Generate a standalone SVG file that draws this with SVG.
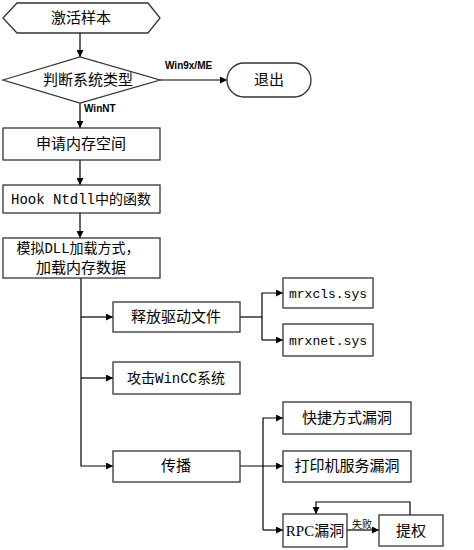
<svg xmlns="http://www.w3.org/2000/svg" width="474" height="550" viewBox="0 0 474 550">
<style>
.s{fill:#fff;stroke:#333;stroke-width:1.3}
.t{font-family:"Noto Sans CJK SC","Liberation Sans",sans-serif;font-size:15px;fill:#000;text-anchor:middle}
.m{font-family:"Liberation Mono","Noto Sans CJK SC",monospace;font-size:14px;fill:#000;text-anchor:middle}
.r{font-family:"Liberation Serif","Noto Sans CJK SC",serif;font-size:15px;fill:#000;text-anchor:middle}
.l{font-family:"Liberation Sans","Noto Sans CJK SC",sans-serif;font-size:10px;font-weight:bold;fill:#000}
.c{fill:none;stroke:#000;stroke-width:1.2}
</style>
<defs>
<marker id="a" viewBox="0 0 10 10" refX="10" refY="5" markerWidth="7" markerHeight="7" markerUnits="userSpaceOnUse" orient="auto"><path d="M0,0 L10,5 L0,10 z" fill="#000"/></marker>
</defs>
<g id="connectors">
<path class="c" d="M80,33 V57" marker-end="url(#a)"/>
<path class="c" d="M160,80 H227" marker-end="url(#a)"/>
<path class="c" d="M80,103 V128" marker-end="url(#a)"/>
<path class="c" d="M80,160 V185" marker-end="url(#a)"/>
<path class="c" d="M80,213 V238" marker-end="url(#a)"/>
<path class="c" d="M81,278 V466 H113" marker-end="url(#a)"/>
<path class="c" d="M81,317 H113" marker-end="url(#a)"/>
<path class="c" d="M81,378 H113" marker-end="url(#a)"/>
<path class="c" d="M240,317 H262"/>
<path class="c" d="M262,340 V293 H283" marker-end="url(#a)"/>
<path class="c" d="M262,340 H283" marker-end="url(#a)"/>
<path class="c" d="M240,466 H283" marker-end="url(#a)"/>
<path class="c" d="M263,530 V418 H283" marker-end="url(#a)"/>
<path class="c" d="M263,530 H283" marker-end="url(#a)"/>
<path class="c" d="M347,530 H379" marker-end="url(#a)"/>
<path class="c" d="M410,515 V502 H316 V514" marker-end="url(#a)"/>
<text class="l" x="165" y="69">Win9x/ME</text>
<text class="l" x="84" y="112">WinNT</text>
<text x="362" y="528" style="font-family:'Noto Sans CJK SC',sans-serif;font-size:10px;text-anchor:middle">失败</text>
</g>
<g id="n1"><polygon class="s" points="3,18 17,3 148,3 160,18 148,33 17,33"/><text class="t" x="81" y="23">激活样本</text></g>
<g id="n2"><polygon class="s" points="3,80 80,57 160,80 80,103"/><text class="t" x="88" y="85">判断系统类型</text></g>
<g id="n3"><rect class="s" x="227" y="63" width="84" height="34" rx="17"/><text class="t" x="269" y="85">退出</text></g>
<g id="n4"><rect class="s" x="3" y="128" width="157" height="32"/><text class="t" x="81" y="149">申请内存空间</text></g>
<g id="n5"><rect class="s" x="3" y="185" width="157" height="28"/><text class="m" x="81" y="204">Hook Ntdll中的函数</text></g>
<g id="n6"><rect class="s" x="3" y="238" width="157" height="40"/><text class="m" x="78" y="253">模拟DLL加载方式，</text><text class="t" x="81" y="273">加载内存数据</text></g>
<g id="n7"><rect class="s" x="113" y="302" width="127" height="30"/><text class="t" x="176" y="322">释放驱动文件</text></g>
<g id="n8"><rect class="s" x="283" y="278" width="90" height="30"/><text class="m" x="328" y="298" style="font-size:13px">mrxcls.sys</text></g>
<g id="n9"><rect class="s" x="283" y="324" width="90" height="32"/><text class="m" x="328" y="345" style="font-size:13px">mrxnet.sys</text></g>
<g id="n10"><rect class="s" x="113" y="362" width="127" height="32"/><text class="m" x="176" y="383">攻击WinCC系统</text></g>
<g id="n11"><rect class="s" x="113" y="451" width="127" height="31"/><text class="t" x="176" y="471">传播</text></g>
<g id="n12"><rect class="s" x="283" y="402" width="128" height="32"/><text class="t" x="347" y="423">快捷方式漏洞</text></g>
<g id="n13"><rect class="s" x="283" y="451" width="128" height="31"/><text class="t" x="347" y="471">打印机服务漏洞</text></g>
<g id="n14"><rect class="s" x="283" y="514" width="64" height="33"/><text class="r" x="315" y="536">RPC漏洞</text></g>
<g id="n15"><rect class="s" x="379" y="515" width="64" height="31"/><text class="t" x="411" y="536">提权</text></g>
</svg>
